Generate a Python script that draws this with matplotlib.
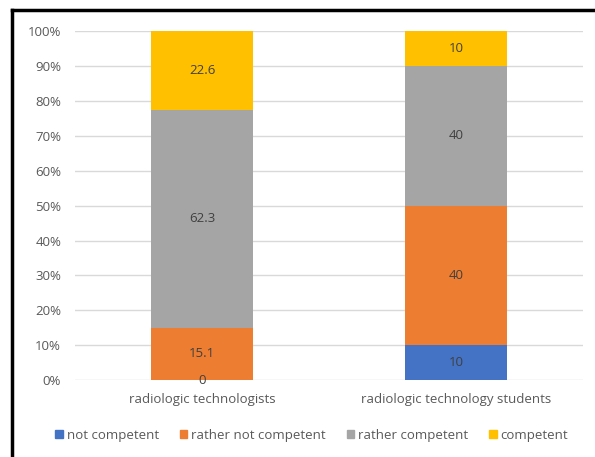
import matplotlib.pyplot as plt
from matplotlib.lines import Line2D
import numpy as np

plt.rcParams['font.family'] = ['Open Sans', 'DejaVu Sans']

categories = ['radiologic technologists', 'radiologic technology students']
series = ['not competent', 'rather not competent', 'rather competent', 'competent']
not_competent = [0, 10]
rather_not = [15.1, 40]
rather_comp = [62.3, 40]
competent = [22.6, 10]
colors = ['#4472C4', '#ED7D31', '#A5A5A5', '#FFC000']

values = np.array([not_competent, rather_not, rather_comp, competent])
shares = values / values.sum(axis=0) * 100

fig = plt.figure(figsize=(5.95, 4.57), dpi=100)
ax = fig.add_axes([0.126, 0.168, 0.854, 0.764])

x = np.arange(len(categories))
bottom = np.zeros(len(categories))
for i, name in enumerate(series):
    ax.bar(x, shares[i], 0.4, bottom=bottom, color=colors[i], label=name, zorder=2)
    for j in range(len(categories)):
        ax.text(x[j], bottom[j] + shares[i][j] / 2, f'{values[i][j]:g}',
                ha='center', va='center', fontsize=9.5, color='#404040', zorder=3)
    bottom += shares[i]

ax.set_xlim(-0.5, 1.5)
ax.set_ylim(0, 100)
ax.set_yticks(range(0, 101, 10))
ax.set_yticklabels([f'{t}%' for t in range(0, 101, 10)])
ax.set_xticks(x)
ax.set_xticklabels(categories)
ax.tick_params(axis='both', length=0, labelsize=9.5, colors='#595959')
ax.tick_params(axis='y', pad=10)
ax.tick_params(axis='x', pad=9)
ax.grid(axis='y', color='#D9D9D9', linewidth=1, zorder=0)
for s in ax.spines.values():
    s.set_visible(False)

handles = [plt.Rectangle((0, 0), 1, 1, color=c) for c in colors]
fig.legend(handles, series, loc='center', bbox_to_anchor=(0.524, 0.047), ncol=4,
           frameon=False, fontsize=9.5, handlelength=0.55, handleheight=0.55,
           handletextpad=0.3, columnspacing=1.6, labelcolor='#595959')

# black frame on left and top edges
fig.add_artist(Line2D([12 / 595, 12 / 595], [0, 1 - 10 / 457], color='black', linewidth=2.5,
                      transform=fig.transFigure))
fig.add_artist(Line2D([12 / 595, 1], [1 - 10 / 457, 1 - 10 / 457], color='black', linewidth=2.5,
                      transform=fig.transFigure))

fig.savefig('out.png', dpi=100, facecolor='white')
